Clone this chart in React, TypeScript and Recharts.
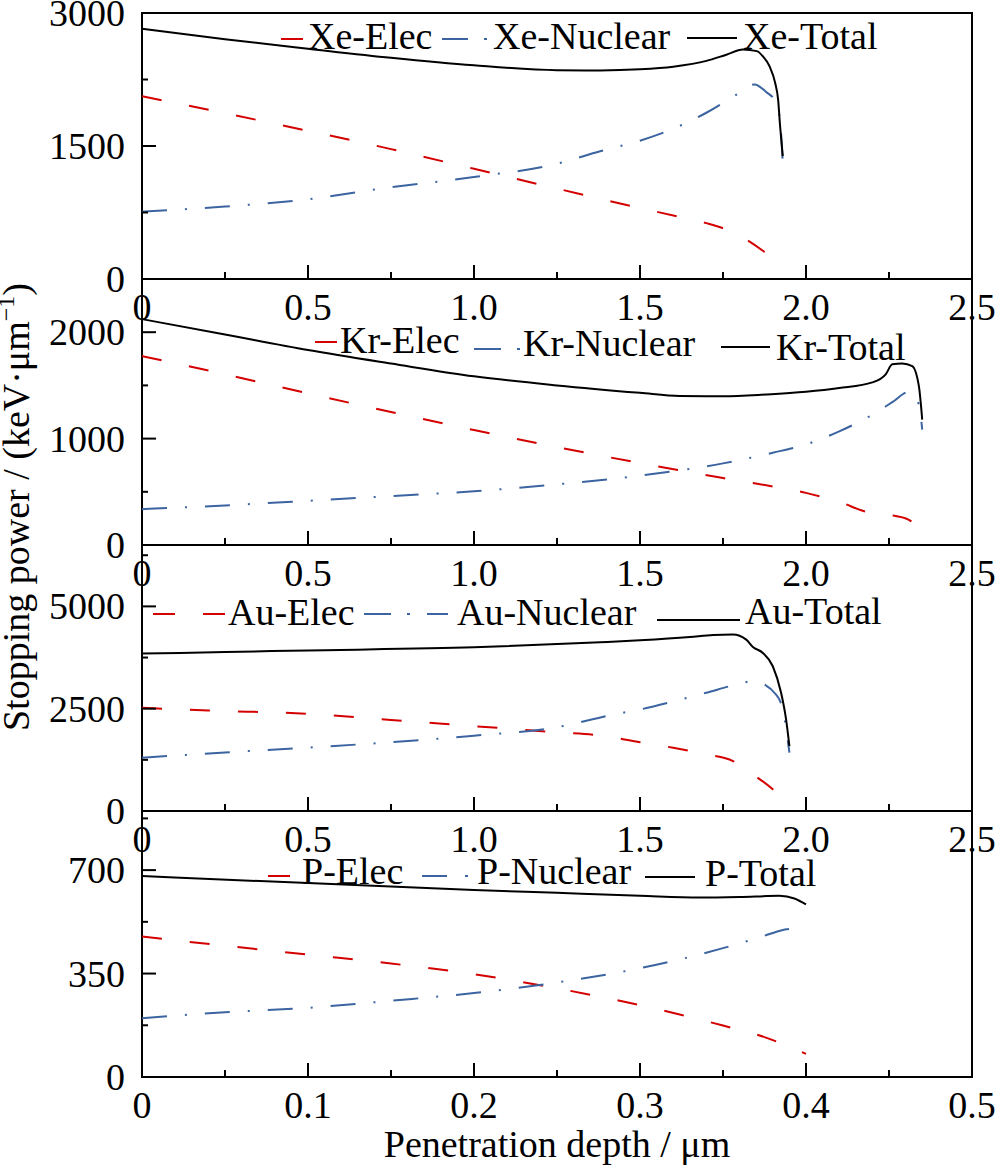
import { LineChart, Line, XAxis, YAxis, Legend, ReferenceArea, Label } from 'recharts';

const FONT = "'Liberation Serif', 'Times New Roman', serif";
const RED = '#d40000';
const BLUE = '#3b64a0';
const BLACK = '#000000';

// Xe
const xeElecDepth = [0, 0.25, 0.5, 0.75, 1.0, 1.25, 1.5, 1.62, 1.7, 1.76, 1.82, 1.87, 1.9, 1.93];
const xeElecPower = [2062, 1870, 1671, 1465, 1243, 1020, 800, 700, 630, 558, 445, 318, 230, 80];
const xeNuclearDepth = [0, 0.25, 0.5, 0.75, 1.0, 1.25, 1.38, 1.5, 1.6, 1.7, 1.8, 1.845, 1.88, 1.91, 1.922, 1.93];
const xeNuclearPower = [761, 817, 900, 1035, 1150, 1300, 1441, 1560, 1695, 1875, 2100, 2195, 2110, 1990, 1780, 1313];
const xeTotalDepth = [0, 0.25, 0.5, 0.75, 1.0, 1.25, 1.38, 1.5, 1.6, 1.7, 1.76, 1.81, 1.852, 1.87, 1.89, 1.907, 1.916, 1.922, 1.93];
const xeTotalPower = [2823, 2705, 2598, 2495, 2410, 2355, 2352, 2365, 2395, 2460, 2530, 2588, 2570, 2512, 2400, 2213, 2024, 1723, 1385];

// Kr
const krElecDepth = [0, 0.25, 0.5, 0.75, 1.0, 1.25, 1.5, 1.75, 1.9, 2.0, 2.1, 2.19, 2.25, 2.31, 2.35];
const krElecPower = [1776, 1605, 1425, 1250, 1080, 920, 770, 629, 550, 490, 405, 305, 283, 236, 78];
const krNuclearDepth = [0, 0.25, 0.5, 0.75, 1.0, 1.25, 1.5, 1.75, 1.9, 2.0, 2.1, 2.2, 2.26, 2.31, 2.34, 2.35];
const krNuclearPower = [337, 372, 415, 460, 505, 570, 652, 767, 867, 945, 1068, 1225, 1342, 1440, 1321, 1085];
const krTotalDepth = [0, 0.25, 0.5, 0.75, 1.0, 1.25, 1.5, 1.62, 1.75, 1.88, 2.0, 2.1, 2.2, 2.24, 2.26, 2.29, 2.32, 2.34, 2.35];
const krTotalPower = [2123, 1978, 1832, 1705, 1585, 1500, 1430, 1400, 1398, 1415, 1440, 1475, 1528, 1604, 1698, 1707, 1682, 1493, 1179];

// Au
const auElecDepth = [0, 0.2, 0.5, 0.75, 1.0, 1.25, 1.38, 1.5, 1.6, 1.7, 1.78, 1.84, 1.9, 1.95];
const auElecPower = [2522, 2456, 2375, 2223, 2074, 1924, 1846, 1680, 1545, 1383, 1220, 895, 529, 122];
const auNuclearDepth = [0, 0.25, 0.5, 0.75, 1.0, 1.25, 1.42, 1.5, 1.6, 1.7, 1.79, 1.84, 1.91, 1.93, 1.95];
const auNuclearPower = [1302, 1430, 1550, 1680, 1840, 2050, 2358, 2480, 2675, 2890, 3090, 3171, 2846, 2480, 1424];
const auTotalDepth = [0, 0.25, 0.5, 1.0, 1.38, 1.5, 1.65, 1.72, 1.78, 1.82, 1.84, 1.87, 1.9, 1.925, 1.94, 1.95];
const auTotalPower = [3846, 3885, 3925, 4000, 4122, 4170, 4250, 4300, 4310, 4188, 4009, 3863, 3537, 2888, 2237, 1585];

// P
const pElecDepth = [0, 0.05, 0.1, 0.15, 0.2, 0.25, 0.3, 0.35, 0.375, 0.4];
const pElecPower = [475, 444, 414, 384, 348, 300, 243, 174, 135, 78];
const pNuclearDepth = [0, 0.05, 0.1, 0.15, 0.2, 0.25, 0.3, 0.35, 0.375, 0.385, 0.4];
const pNuclearPower = [199, 219, 234, 258, 284, 320, 368, 436, 478, 496, 505];
const pTotalDepth = [0, 0.1, 0.2, 0.25, 0.3, 0.336, 0.36, 0.384, 0.393, 0.4];
const pTotalPower = [680, 656, 633, 623, 613, 607, 609, 613, 604, 584];

// axis ticks
const xTicksWide = [0, 0.25, 0.5, 0.75, 1.0, 1.25, 1.5, 1.75, 2.0, 2.25, 2.5];
const xMajorsWide = [0, 0.5, 1.0, 1.5, 2.0, 2.5];
const xTicksNarrow = [0, 0.05, 0.1, 0.15, 0.2, 0.25, 0.3, 0.35, 0.4, 0.45, 0.5];
const xMajorsNarrow = [0, 0.1, 0.2, 0.3, 0.4, 0.5];
const xeYTicks = [0, 750, 1500, 2250, 3000];
const xeYMajors = [0, 1500, 3000];
const krYTicks = [0, 500, 1000, 1500, 2000, 2500];
const krYMajors = [0, 1000, 2000];
const auYTicks = [0, 1250, 2500, 3750, 5000, 6250];
const auYMajors = [0, 2500, 5000];
const pYTicks = [0, 175, 350, 525, 700, 875];
const pYMajors = [0, 350, 700];

const TOP = 60;
const PLOT_H = 266;
const AXIS_H = 200;

const zip = (xs: number[], ys: number[]) => xs.map((x, i) => ({ x, y: ys[i] }));
const isMajor = (majors: number[], v: number) => majors.some((m) => Math.abs(m - v) < 1e-9);

function XTick({ x, y, payload, majors }: any) {
  const v = payload.value;
  const major = isMajor(majors, v);
  return (
    <g>
      <line x1={x} x2={x} y1={y} y2={y - (major ? 14 : 7)} stroke={BLACK} strokeWidth={2} />
      {major && (
        <text x={x} y={y + 41} textAnchor="middle" fontFamily={FONT} fontSize={38} fill={BLACK}>
          {v === 0 ? '0' : v.toFixed(1)}
        </text>
      )}
    </g>
  );
}

function YTick({ x, y, payload, majors }: any) {
  const v = payload.value;
  const major = isMajor(majors, v);
  return (
    <g>
      <line x1={x} x2={x + (major ? 14 : 6)} y1={y} y2={y} stroke={BLACK} strokeWidth={2} />
      {major && (
        <text x={x - 17} y={y + 13} textAnchor="end" fontFamily={FONT} fontSize={38} fill={BLACK}>
          {v}
        </text>
      )}
    </g>
  );
}

function YTitle({ viewBox }: any) {
  const cx = viewBox.x + 29;
  const cy = viewBox.y + viewBox.height / 2 + 95;
  return (
    <text x={cx} y={cy} transform={`rotate(-90 ${cx} ${cy})`} textAnchor="middle" fontFamily={FONT} fontSize={38} fill={BLACK}>
      Stopping power / (keV·μm
      <tspan fontSize={24} dy={-15}>−1</tspan>
      <tspan dy={15}>)</tspan>
    </text>
  );
}

function XTitle({ viewBox }: any) {
  return (
    <text x={viewBox.x + viewBox.width / 2} y={viewBox.y + 80} textAnchor="middle" fontFamily={FONT} fontSize={38} fill={BLACK}>
      Penetration depth / μm
    </text>
  );
}

type LegendItem = { segs: number[][]; sy: number; tx: number; ty: number };

function PanelLegend({ payload, items }: any) {
  return (
    <svg width={1000} height={TOP + 120} style={{ display: 'block', overflow: 'visible' }}>
      {(payload || []).map((entry: any, i: number) => {
        const it: LegendItem = items[i];
        if (!it) return null;
        return (
          <g key={entry.value}>
            {it.segs.map(([a, b], j) => (
              <line key={j} x1={a} x2={b} y1={TOP + it.sy} y2={TOP + it.sy} stroke={entry.color} strokeWidth={2} />
            ))}
            <text x={it.tx} y={TOP + it.ty} fontFamily={FONT} fontSize={38} fill={BLACK}>
              {entry.value}
            </text>
          </g>
        );
      })}
    </svg>
  );
}

type Series = { name: string; depth: number[]; power: number[]; color: string; dash?: string };

function Panel({
  plotTop, xMax, xTicks, xMajors, yMax, yTicks, yMajors, series, legend, yTitle, xTitle,
}: {
  plotTop: number; xMax: number; xTicks: number[]; xMajors: number[]; yMax: number; yTicks: number[];
  yMajors: number[]; series: Series[]; legend: LegendItem[]; yTitle?: boolean; xTitle?: boolean;
}) {
  return (
    <div style={{ position: 'absolute', left: 0, top: plotTop - TOP }}>
      <LineChart width={1000} height={TOP + PLOT_H + AXIS_H} margin={{ top: TOP, right: 28, bottom: 0, left: 0 }}>
        <XAxis
          type="number"
          dataKey="x"
          domain={[0, xMax]}
          ticks={xTicks}
          interval={0}
          tickSize={0}
          tickMargin={0}
          axisLine={false}
          tickLine={false}
          height={AXIS_H}
          tick={<XTick majors={xMajors} />}
        >
          {xTitle && <Label content={XTitle} />}
        </XAxis>
        <YAxis
          type="number"
          domain={[0, yMax]}
          ticks={yTicks}
          interval={0}
          tickSize={0}
          tickMargin={0}
          axisLine={false}
          tickLine={false}
          width={142}
          tick={<YTick majors={yMajors} />}
        >
          {yTitle && <Label content={YTitle} />}
        </YAxis>
        <ReferenceArea x1={0} x2={xMax} y1={0} y2={yMax} stroke={BLACK} strokeWidth={2} fill="none" fillOpacity={0} />
        {series.map((s) => (
          <Line
            key={s.name}
            data={zip(s.depth, s.power)}
            dataKey="y"
            name={s.name}
            type="monotone"
            stroke={s.color}
            strokeWidth={2}
            strokeDasharray={s.dash}
            dot={false}
            activeDot={false}
            isAnimationActive={false}
          />
        ))}
        <Legend
          layout="horizontal"
          verticalAlign="middle"
          align="center"
          wrapperStyle={{ top: 0, left: 0, width: 1000 }}
          content={<PanelLegend items={legend} />}
        />
      </LineChart>
    </div>
  );
}

const ELEC_DASH = '20 28';
const NUC_DASH = '25 18 2 18';

export default function App() {
  return (
    <div style={{ position: 'absolute', left: 0, top: 0, width: 1000, height: 1165, overflow: 'hidden', background: '#fff' }}>
      <Panel
        plotTop={13}
        xMax={2.5}
        xTicks={xTicksWide}
        xMajors={xMajorsWide}
        yMax={3000}
        yTicks={xeYTicks}
        yMajors={xeYMajors}
        series={[
          { name: 'Xe-Elec', depth: xeElecDepth, power: xeElecPower, color: RED, dash: ELEC_DASH },
          { name: 'Xe-Nuclear', depth: xeNuclearDepth, power: xeNuclearPower, color: BLUE, dash: NUC_DASH },
          { name: 'Xe-Total', depth: xeTotalDepth, power: xeTotalPower, color: BLACK },
        ]}
        legend={[
          { segs: [[281, 303]], sy: 26, tx: 308, ty: 36 },
          { segs: [[442, 468], [484, 487]], sy: 26, tx: 493, ty: 36 },
          { segs: [[687, 737]], sy: 25, tx: 743, ty: 36 },
        ]}
      />
      <Panel
        plotTop={279}
        xMax={2.5}
        xTicks={xTicksWide}
        xMajors={xMajorsWide}
        yMax={2500}
        yTicks={krYTicks}
        yMajors={krYMajors}
        yTitle
        series={[
          { name: 'Kr-Elec', depth: krElecDepth, power: krElecPower, color: RED, dash: ELEC_DASH },
          { name: 'Kr-Nuclear', depth: krNuclearDepth, power: krNuclearPower, color: BLUE, dash: NUC_DASH },
          { name: 'Kr-Total', depth: krTotalDepth, power: krTotalPower, color: BLACK },
        ]}
        legend={[
          { segs: [[315, 337]], sy: 63, tx: 340, ty: 74 },
          { segs: [[474, 501], [517, 520]], sy: 70, tx: 523, ty: 77 },
          { segs: [[721, 770]], sy: 68, tx: 776, ty: 81 },
        ]}
      />
      <Panel
        plotTop={545}
        xMax={2.5}
        xTicks={xTicksWide}
        xMajors={xMajorsWide}
        yMax={6500}
        yTicks={auYTicks}
        yMajors={auYMajors}
        series={[
          { name: 'Au-Elec', depth: auElecDepth, power: auElecPower, color: RED, dash: ELEC_DASH },
          { name: 'Au-Nuclear', depth: auNuclearDepth, power: auNuclearPower, color: BLUE, dash: NUC_DASH },
          { name: 'Au-Total', depth: auTotalDepth, power: auTotalPower, color: BLACK },
        ]}
        legend={[
          { segs: [[153, 175], [203, 225]], sy: 69, tx: 228, ty: 80 },
          { segs: [[364, 391], [407, 410], [427, 448]], sy: 69, tx: 457, ty: 80 },
          { segs: [[657, 740]], sy: 75, tx: 745, ty: 79 },
        ]}
      />
      <Panel
        plotTop={811}
        xMax={0.5}
        xTicks={xTicksNarrow}
        xMajors={xMajorsNarrow}
        yMax={900}
        yTicks={pYTicks}
        yMajors={pYMajors}
        xTitle
        series={[
          { name: 'P-Elec', depth: pElecDepth, power: pElecPower, color: RED, dash: ELEC_DASH },
          { name: 'P-Nuclear', depth: pNuclearDepth, power: pNuclearPower, color: BLUE, dash: NUC_DASH },
          { name: 'P-Total', depth: pTotalDepth, power: pTotalPower, color: BLACK },
        ]}
        legend={[
          { segs: [[268, 290]], sy: 65, tx: 302, ty: 73 },
          { segs: [[422, 447], [465, 468]], sy: 65, tx: 477, ty: 73 },
          { segs: [[645, 695]], sy: 66, tx: 705, ty: 75 },
        ]}
      />
    </div>
  );
}
